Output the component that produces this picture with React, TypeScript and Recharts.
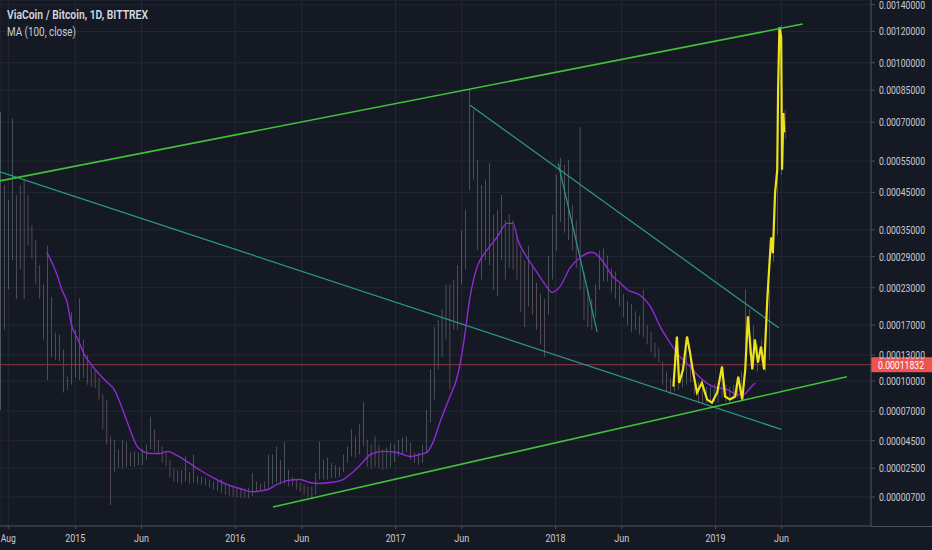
import React from "react";
import { ComposedChart, Bar, Line, Cell, XAxis, YAxis, CartesianGrid, ReferenceLine } from "recharts";

// daily VIA/BTC candles, sampled every 9 days, prices in satoshi
const candleStart = "2014-07-14";
const candleStepDays = 9;
const candleHigh = [
  74500, 47250, 42800, 71800, 44200, 47250, 48900, 44200, 36100, 32600,
  27300, 23600, 31400, 21400, 15950, 15670, 13700, 10470, 18950, 16350,
  21200, 15000, 13000, 11620, 11275, 10350, 8600, 8100, 4840, 4590,
  3830, 4590, 4430, 3610, 3690, 3610, 3830, 4200, 6500, 5420,
  4590, 4060, 3690, 3090, 2500, 2380, 2380, 3320, 2250, 3460,
  2000, 1940, 1880, 1760, 1630, 1690, 1760, 1510, 1450, 1320,
  1260, 1260, 1200, 1260, 2190, 1630, 1510, 1630, 3460, 3460,
  4060, 3090, 4430, 2380, 1940, 1760, 1570, 1450, 1320, 1320,
  2190, 4430, 3090, 3240, 2870, 2720, 2580, 3460, 4060, 5420,
  4840, 5840, 7900, 4590, 4200, 4840, 4200, 3830, 3980, 4350,
  4200, 4590, 4760, 4840, 4350, 3610, 3610, 4200, 7100, 11275,
  16750, 17800, 19400, 23600, 23600, 24500, 27300, 34800, 40100, 85500,
  75400, 55400, 47250, 48900, 54350, 38800, 40100, 44200, 37400, 38800,
  37400, 33700, 30300, 28250, 31400, 27300, 23900, 21900, 21050, 29200,
  38800, 50500, 56100, 53700, 55400, 41500, 37400, 68100, 26000, 22700,
  21050, 23600, 30300, 30800, 29200, 26700, 26000, 23600, 21900, 20700,
  20250, 19100, 18450, 22700, 17000, 16050, 14600, 13950, 12200, 11045,
  10350, 13000, 11505, 11850, 13700, 12770, 11275, 9900, 9300, 9400,
  9600, 9700, 9800, 11275, 9600, 9400, 9600, 10100, 11045, 22700,
  19400, 17000, 14340, 15000, 13000, 22700, 35300, 55400, 124600, 75400,
];
const candleLow = [
  7100, 16350, 22700, 28250, 21050, 26400, 21050, 31400, 28600, 23600,
  21050, 15000, 10100, 12770, 12425, 12200, 8800, 9100, 9600, 10350,
  10100, 10350, 9600, 9400, 9300, 8100, 5420, 4200, 250, 2250,
  2500, 2500, 2580, 2650, 2580, 2720, 2720, 3090, 3830, 3690,
  3460, 2870, 2650, 1880, 1630, 1570, 1510, 1630, 1510, 1570,
  1510, 1450, 1380, 1260, 1140, 1070, 950, 830, 760, 700,
  700, 640, 640, 640, 760, 1010, 1070, 1140, 1260, 1450,
  1570, 1450, 1450, 1320, 1320, 1140, 1010, 830, 700, 640,
  830, 1760, 1760, 1760, 1880, 1880, 1940, 2250, 2870, 3320,
  3240, 3460, 4060, 2580, 2500, 2580, 2500, 2380, 2500, 2580,
  2950, 3320, 3460, 3610, 3090, 2870, 2720, 2870, 3610, 6000,
  8100, 11275, 12770, 15000, 9100, 16350, 16350, 23600, 26400, 45600,
  48900, 30300, 24500, 28250, 27300, 22700, 21500, 28250, 24500, 26700,
  26400, 24500, 18950, 16750, 19900, 18600, 16350, 14340, 12770, 18600,
  24500, 30300, 36900, 34300, 32600, 30300, 26700, 22700, 17800, 16750,
  16350, 18150, 22700, 24100, 24100, 22200, 21050, 19900, 18150, 17000,
  15950, 16350, 15670, 15250, 14340, 13300, 12655, 12080, 9600, 8900,
  8600, 8900, 9100, 9300, 9600, 9900, 8600, 7800, 7700, 7800,
  7800, 7900, 7800, 8300, 7900, 7800, 8100, 8300, 8600, 11045,
  13000, 12200, 11045, 12200, 11045, 12425, 27900, 33700, 50500, 63100,
];

// MA (100, close)
const maDates = [
  "2014-10-28", "2014-11-20", "2014-12-01", "2014-12-13", "2014-12-24", "2015-01-07", "2015-01-23", "2015-02-03",
  "2015-02-19", "2015-03-14", "2015-04-01", "2015-04-13", "2015-04-29", "2015-05-21", "2015-06-04", "2015-06-20",
  "2015-07-13", "2015-07-31", "2015-08-21", "2015-09-13", "2015-10-12", "2015-11-11", "2015-12-13", "2016-01-11",
  "2016-02-10", "2016-03-15", "2016-04-05", "2016-04-28", "2016-05-28", "2016-06-19", "2016-07-05", "2016-08-04",
  "2016-09-03", "2016-09-26", "2016-10-19", "2016-11-04", "2016-12-03", "2017-01-04", "2017-02-03", "2017-02-25",
  "2017-03-13", "2017-03-27", "2017-04-12", "2017-05-05", "2017-05-21", "2017-06-04", "2017-06-20", "2017-07-06",
  "2017-07-28", "2017-08-20", "2017-09-12", "2017-09-26", "2017-10-07", "2017-10-28", "2017-11-20", "2017-12-08",
  "2017-12-24", "2018-01-11", "2018-02-03", "2018-02-26", "2018-03-25", "2018-04-17", "2018-05-12", "2018-05-28",
  "2018-06-13", "2018-07-13", "2018-08-05", "2018-08-28", "2018-09-19", "2018-10-12", "2018-11-04", "2018-11-27",
  "2018-12-27", "2019-01-28", "2019-02-20", "2019-03-06", "2019-03-22", "2019-04-02",
];
const maValues = [
  29900, 25400, 22700, 20570, 16870, 15000, 12885, 12080,
  11045, 9900, 9000, 7800, 6090, 4130, 3690, 3540,
  3540, 3690, 3390, 2950, 2380, 1880, 1450, 1200,
  1010, 1140, 1450, 1690, 1760, 1570, 1510, 1570,
  1760, 2250, 2950, 3460, 3690, 3610, 3320, 3460,
  3610, 4350, 6000, 8400, 10350, 14070, 21500, 26900,
  30300, 33200, 36600, 36600, 32600, 28800, 25800, 23600,
  22200, 23200, 26700, 28800, 29900, 28250, 25000, 23900,
  22700, 21700, 19900, 16750, 14600, 12770, 11620, 10350,
  9400, 9100, 8600, 8600, 9300, 9800,
];

// yellow highlight of the latest move
const hlDates = [
  "2018-09-27", "2018-10-05", "2018-10-10", "2018-10-19", "2018-10-28", "2018-11-04", "2018-11-11", "2018-11-20",
  "2018-12-01", "2018-12-13", "2018-12-24", "2019-01-05", "2019-01-16", "2019-01-23", "2019-02-03", "2019-02-15",
  "2019-02-22", "2019-03-03", "2019-03-10", "2019-03-16", "2019-03-26", "2019-04-01", "2019-04-08", "2019-04-15",
  "2019-04-22", "2019-04-29", "2019-05-03", "2019-05-08", "2019-05-12", "2019-05-17", "2019-05-22", "2019-05-24",
  "2019-05-27", "2019-05-31", "2019-06-02", "2019-06-05", "2019-06-07",
];
const hlValues = [
  9400, 15400, 9800, 11275, 15400, 13300, 10930, 8800,
  9800, 8100, 7800, 8800, 11620, 8400, 8100, 8400,
  10470, 8100, 11275, 18300, 11275, 15000, 12080, 14070,
  11275, 20570, 25800, 33200, 29700, 44700, 52100, 86100,
  123000, 116100, 52100, 74100, 65800,
];

// drawn trend lines: [start, end]
const upperGreenDates = ["2014-07-13", "2019-07-19"];
const upperGreenValues = [48500, 125300];
const lowerGreenDates = ["2016-03-27", "2019-10-28"];
const lowerGreenValues = [140, 10470];
const tealLongDates = ["2014-07-13", "2019-05-31"];
const tealLongValues = [51400, 5420];
const tealMidDates = ["2017-06-20", "2019-05-26"];
const tealMidValues = [77700, 16600];
const tealShortDates = ["2018-01-07", "2018-04-06"];
const tealShortValues = [54350, 16050];

const lastPrice = 11832;

const yTicks = [140000, 120000, 100000, 85000, 70000, 55000, 45000, 35000, 29000, 23000, 17000, 13000, 10000, 7000, 4500, 2500, 700];
const xTickDates = ["2014-08-01", "2015-01-01", "2015-06-01", "2016-01-01", "2016-06-01", "2017-01-01", "2017-06-01", "2018-01-01", "2018-06-01", "2019-01-01", "2019-06-01"];
const xTickLabels = ["Aug", "2015", "Jun", "2016", "Jun", "2017", "Jun", "2018", "Jun", "2019", "Jun"];

// TradingView log scale: log10(price + offset)
const PRICE_OFFSET = 10150;
const toV = (sat: number) => Math.log10(sat + PRICE_OFFSET);
const fromV = (v: number) => Math.round(Math.pow(10, v) - PRICE_OFFSET);
const Y_DOMAIN = [3.96818, 5.18746];

const day = (s: string) => {
  const [y, m, d] = s.split("-").map(Number);
  return Date.UTC(y, m - 1, d) / 86400000;
};
const X_DOMAIN = [day("2014-07-13"), day("2019-12-22")];

const BG = "#151924";
const GRID = "#242833";
const AXIS = "#4a4e5a";
const TEXT = "#c9ccd4";
const FONT = "Roboto, 'Liberation Sans', sans-serif";

const candles = candleHigh.map((h, i) => {
  const mid = (h + candleLow[i]) / 2;
  const prevMid = i > 0 ? (candleHigh[i - 1] + candleLow[i - 1]) / 2 : mid;
  return {
    t: day(candleStart) + i * candleStepDays,
    range: [toV(candleLow[i]), toV(h)],
    up: mid >= prevMid,
  };
});

const series = (dates: string[], values: number[]) => dates.map((d, i) => ({ t: day(d), v: toV(values[i]) }));

const maData = series(maDates, maValues);
const hlData = series(hlDates, hlValues);
const upperGreen = series(upperGreenDates, upperGreenValues);
const lowerGreen = series(lowerGreenDates, lowerGreenValues);
const tealLong = series(tealLongDates, tealLongValues);
const tealMid = series(tealMidDates, tealMidValues);
const tealShort = series(tealShortDates, tealShortValues);

const xTicks = xTickDates.map(day);

const fmt = (sat: number) => (sat / 1e8).toFixed(8);

const YTick = (props: any) => {
  const { x, y, payload } = props;
  return (
    <text x={x} y={y} dy={4} fontSize={11} fill={TEXT} fontFamily={FONT} textLength={46} lengthAdjust="spacingAndGlyphs">
      {fmt(fromV(payload.value))}
    </text>
  );
};

const XTick = (props: any) => {
  const { x, y, payload } = props;
  const idx = xTicks.indexOf(payload.value);
  const label = idx >= 0 ? xTickLabels[idx] : "";
  return (
    <text x={x} y={y} dy={10} fontSize={11} fill={TEXT} fontFamily={FONT} textAnchor="middle" textLength={label.length * 5} lengthAdjust="spacingAndGlyphs">
      {label}
    </text>
  );
};

const PriceTag = (props: any) => {
  const vb = props.viewBox || {};
  const x = (vb.x || 0) + (vb.width || 0);
  const y = vb.y || 0;
  return (
    <g>
      <rect x={x} y={y - 7.5} width={61} height={15} fill="#ef5350" />
      <text x={x + 7} y={y + 4} fontSize={11} fill="#ffffff" fontFamily={FONT} textLength={46} lengthAdjust="spacingAndGlyphs">
        {fmt(lastPrice)}
      </text>
    </g>
  );
};

const trendLine = (data: any[], color: string, width: number, key: string) => (
  <Line key={key} data={data} dataKey="v" type="linear" stroke={color} strokeWidth={width} dot={false} activeDot={false} isAnimationActive={false} />
);

export default function App() {
  return (
    <div style={{ position: "absolute", left: 0, top: 0, width: 932, height: 550, background: BG, overflow: "hidden" }}>
      <ComposedChart width={932} height={550} data={candles} margin={{ top: 0, right: 0, bottom: 0, left: 0 }}>
        <CartesianGrid stroke={GRID} />
        <XAxis
          dataKey="t"
          type="number"
          domain={X_DOMAIN}
          ticks={xTicks}
          interval={0}
          tick={(p: any) => <XTick {...p} />}
          height={24}
          axisLine={{ stroke: AXIS }}
          tickLine={{ stroke: AXIS }}
          tickSize={3}
          tickMargin={3}
          allowDataOverflow
        />
        <YAxis
          orientation="right"
          type="number"
          domain={Y_DOMAIN}
          ticks={yTicks.map(toV)}
          interval={0}
          tick={(p: any) => <YTick {...p} />}
          width={61}
          axisLine={{ stroke: AXIS }}
          tickLine={{ stroke: AXIS }}
          tickSize={4}
          tickMargin={4}
          allowDataOverflow
        />
        <Bar dataKey="range" barSize={4} isAnimationActive={false}>
          {candles.map((c, i) => (
            <Cell key={`c-${i}`} fill={c.up ? "#a2c6c0" : "#cfaab3"} fillOpacity={0.85} />
          ))}
        </Bar>
        <ReferenceLine y={toV(lastPrice)} stroke="#8f3647" strokeWidth={1} label={(p: any) => <PriceTag {...p} />} />
        {trendLine(tealLong, "#2a9a8a", 1.2, "tl")}
        {trendLine(tealMid, "#2a9a8a", 1.2, "tm")}
        {trendLine(tealShort, "#2a9a8a", 1.2, "ts")}
        <Line data={maData} dataKey="v" type="monotone" stroke="#9029d6" strokeWidth={1.4} dot={false} activeDot={false} isAnimationActive={false} />
        <Line data={hlData} dataKey="v" type="linear" stroke="#eee21a" strokeWidth={2.2} dot={false} activeDot={false} isAnimationActive={false} />
        {trendLine(upperGreen, "#3fc23a", 1.6, "ug")}
        {trendLine(lowerGreen, "#3fc23a", 1.6, "lg")}
      </ComposedChart>
      <svg width={932} height={550} style={{ position: "absolute", left: 0, top: 0, pointerEvents: "none" }}>
        <line x1={871} y1={526.5} x2={932} y2={526.5} stroke={AXIS} />
        <text x={7} y={19} fontSize={12} fontWeight={600} fill="#d5d8e0" fontFamily={FONT} textLength={141} lengthAdjust="spacingAndGlyphs">
          ViaCoin  / Bitcoin, 1D, BITTREX
        </text>
        <text x={7} y={36} fontSize={12} fill="#c9ccd4" fontFamily={FONT} textLength={69} lengthAdjust="spacingAndGlyphs">
          MA (100, close)
        </text>
      </svg>
    </div>
  );
}
